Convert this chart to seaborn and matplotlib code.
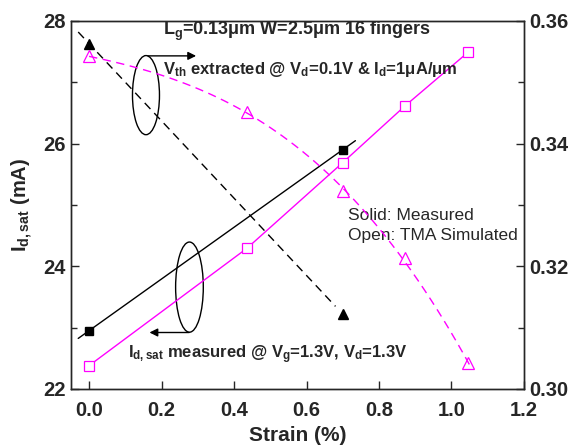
import numpy as np
import pandas as pd
import matplotlib
matplotlib.use('Agg')
import matplotlib.pyplot as plt
import seaborn as sns
from matplotlib.patches import Ellipse

# Data
strain_meas = [0.0, 0.70]
idsat_meas = [22.95, 25.90]
vth_meas = [0.3563, 0.3122]

strain_sim = [0.0, 0.435, 0.70, 0.871, 1.046]
idsat_sim = [22.38, 24.29, 25.69, 26.61, 27.49]
vth_sim = [0.3542, 0.3452, 0.3322, 0.3213, 0.3042]

sns.set_style('ticks')
plt.rcParams['font.family'] = ['Liberation Sans', 'DejaVu Sans']
plt.rcParams['mathtext.fontset'] = 'custom'
plt.rcParams['mathtext.rm'] = 'Liberation Sans:bold'
plt.rcParams['mathtext.it'] = 'Liberation Sans:bold'
plt.rcParams['mathtext.bf'] = 'Liberation Sans:bold'

fig = plt.figure(figsize=(5.77, 4.45), dpi=100)
ax = fig.add_axes([0.123, 0.126, 0.785, 0.827])
ax2 = ax.twinx()

meas = pd.DataFrame({'strain': strain_meas, 'idsat': idsat_meas, 'vth': vth_meas})
sim = pd.DataFrame({'strain': strain_sim, 'idsat': idsat_sim, 'vth': vth_sim})

# linear fits for measured data
p_id = np.polyfit(meas['strain'], meas['idsat'], 1)
p_vt = np.polyfit(meas['strain'], meas['vth'], 1)
x_id = np.linspace(-0.03, 0.735, 20)
x_vt = np.linspace(-0.03, 0.68, 20)
sns.lineplot(x=x_id, y=np.polyval(p_id, x_id), ax=ax, color='black', lw=1.0)
sns.lineplot(x=x_vt, y=np.polyval(p_vt, x_vt), ax=ax2, color='black', lw=1.0,
             linestyle=(0, (6, 4)))

# simulated curves
sns.lineplot(data=sim, x='strain', y='idsat', ax=ax, color='magenta', lw=1.0)
p_sim = np.polyfit(sim['strain'], sim['vth'], 3)
x_s = np.linspace(0.0, 1.05, 60)
sns.lineplot(x=x_s, y=np.polyval(p_sim, x_s), ax=ax2, color='magenta', lw=1.0,
             linestyle=(0, (6, 4)))

# markers
ax.plot(meas['strain'], meas['idsat'], 's', color='black', ms=5.5)
ax.plot(sim['strain'], sim['idsat'], 's', mfc='white', mec='magenta', mew=0.9, ms=6.5)
ax2.plot(meas['strain'], meas['vth'], '^', color='black', ms=6.5)
ax2.plot(sim['strain'], sim['vth'], '^', mfc='none', mec='magenta', mew=0.9, ms=8)

ax.set_xlim(-0.05, 1.2)
ax.set_ylim(22, 28)
ax2.set_ylim(0.30, 0.36)
ax.set_xticks([0.0, 0.2, 0.4, 0.6, 0.8, 1.0, 1.2])
ax.set_xticklabels(['0.0', '0.2', '0.4', '0.6', '0.8', '1.0', '1.2'])
ax.set_yticks([22, 24, 26, 28])
ax.set_yticks([23, 25, 27], minor=True)
ax2.set_yticks([0.30, 0.32, 0.34, 0.36])
ax2.set_yticklabels(['0.30', '0.32', '0.34', '0.36'])
ax2.set_yticks([0.31, 0.33, 0.35], minor=True)

for a in (ax, ax2):
    a.tick_params(direction='in', which='major', length=6, width=1, labelsize=14.5)
    a.tick_params(direction='in', which='minor', length=4, width=1)
    for lab in a.get_xticklabels() + a.get_yticklabels():
        lab.set_fontweight('bold')
    for s in a.spines.values():
        s.set_linewidth(1.0)
        s.set_visible(True)
ax.tick_params(axis='x', pad=9)
ax.set_xlabel('Strain (%)', fontsize=15, fontweight='bold', labelpad=4)
ax.set_ylabel(r'$\mathregular{I_{d,sat}}$ (mA)', fontsize=14.5, fontweight='bold', labelpad=6)
ax2.set_ylabel('')

# annotations
ax.text(0.574, 27.83, r'$\mathregular{L_g}$=0.13μm W=2.5μm 16 fingers', fontsize=13,
        fontweight='bold', ha='center', va='center')
ax.text(0.204, 27.2, r'$\mathregular{V_{th}}$ extracted @ $\mathregular{V_d}$=0.1V & $\mathregular{I_d}$=1μA/μm',
        fontsize=12, fontweight='bold', ha='left', va='center')
ax.text(0.714, 24.83, 'Solid: Measured', fontsize=12.5, ha='left', va='center')
ax.text(0.714, 24.50, 'Open: TMA Simulated', fontsize=12.5, ha='left', va='center')
ax.text(0.108, 22.55, r'$\mathregular{I_{d,sat}}$ measured @ $\mathregular{V_g}$=1.3V, $\mathregular{V_d}$=1.3V',
        fontsize=12, fontweight='bold', ha='left', va='center')

ax.add_patch(Ellipse((0.157, 26.79), 0.0745, 1.29, fill=False, lw=1.0, color='black'))
ax.add_patch(Ellipse((0.277, 23.66), 0.0764, 1.47, fill=False, lw=1.0, color='black'))
ax.annotate('', xy=(0.303, 27.43), xytext=(0.155, 27.43),
            arrowprops=dict(arrowstyle='-|>', color='black', lw=1.0, mutation_scale=12))
ax.annotate('', xy=(0.159, 22.92), xytext=(0.284, 22.92),
            arrowprops=dict(arrowstyle='-|>', color='black', lw=1.0, mutation_scale=12))

fig.savefig('out.png', dpi=100)
